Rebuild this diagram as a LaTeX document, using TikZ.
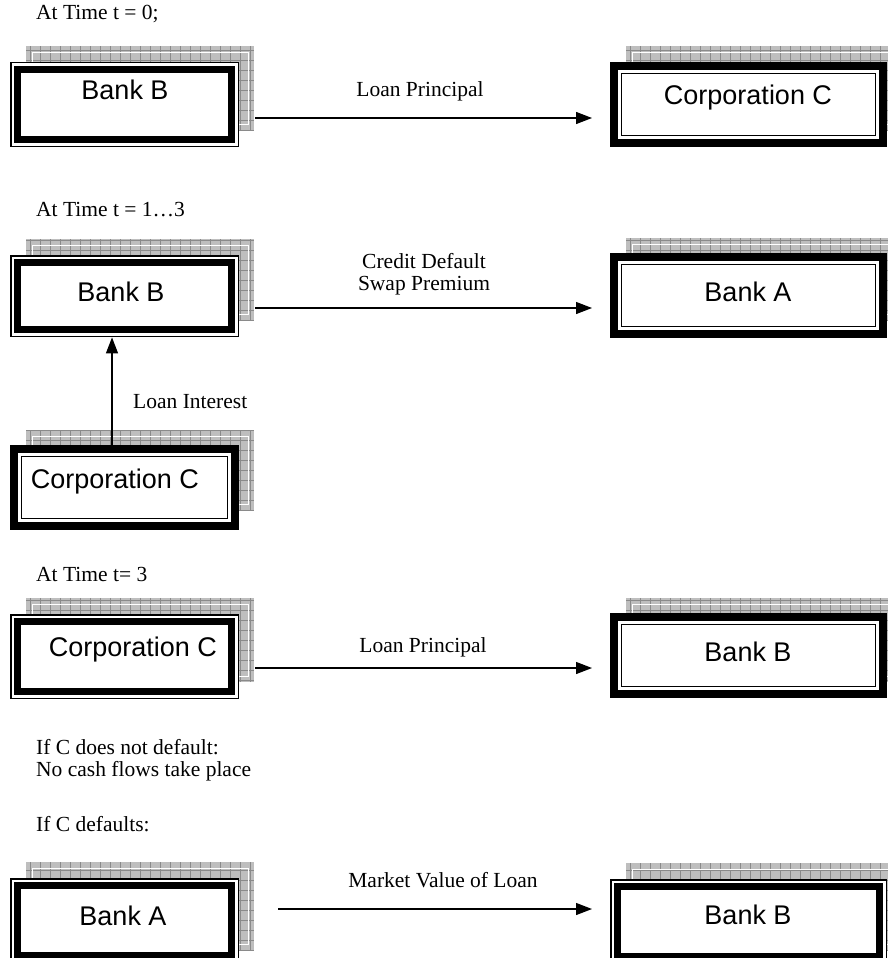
\documentclass[tikz,border=0pt]{standalone}
\usepackage{fontspec}
\setmainfont{Liberation Serif}
\newfontfamily\arialf{Liberation Sans}
\usetikzlibrary{calc,arrows.meta}
\definecolor{shfill}{HTML}{BEBEBE}
\definecolor{shgrid}{HTML}{8A8A8A}
\newcommand{\mkshadow}[4]{%
  \fill[shfill] (#1,#2) rectangle (#3,#4);
  \begin{scope}
    \clip (#1,#2) rectangle (#3,#4);
    \draw[shgrid, line width=0.6pt, xstep=10pt, ystep=10pt] (#1,#2) grid (#3,#4);
  \end{scope}
  \draw[white, line width=0.9pt] (#1+6,#2+6) rectangle (#3-6,#4-6);
}
\tikzset{
  lbl/.style={font=\fontsize{21.5}{25}\selectfont, inner sep=0pt},
  btxt/.style={font=\arialf\fontsize{27}{30}\selectfont, inner sep=0pt},
  bxbase/.style={rectangle, fill=white, draw=none, inner sep=0pt, anchor=north west,
    minimum width=229pt, minimum height=85pt},
  boxA/.style={bxbase, path picture={
    \draw[line width=1.3pt] ([shift={(0.65pt,-0.65pt)}]path picture bounding box.north west)
       rectangle ([shift={(-0.65pt,0.65pt)}]path picture bounding box.south east);
    \draw[line width=7pt] ([shift={(7.5pt,-7.5pt)}]path picture bounding box.north west)
       rectangle ([shift={(-7.5pt,7.5pt)}]path picture bounding box.south east);
  }},
  boxB/.style={bxbase, path picture={
    \draw[line width=8pt] ([shift={(4pt,-4pt)}]path picture bounding box.north west)
       rectangle ([shift={(-4pt,4pt)}]path picture bounding box.south east);
    \draw[line width=1.3pt] ([shift={(11.5pt,-11.5pt)}]path picture bounding box.north west)
       rectangle ([shift={(-11.5pt,11.5pt)}]path picture bounding box.south east);
  }},
  arr/.style={line width=1.3pt, -{Triangle[length=16pt,width=12pt]}},
}
\begin{document}
\begin{tikzpicture}[x=1pt,y=-1pt]
\useasboundingbox (0,0) rectangle (888,958);
\fill[white] (0,0) rectangle (888,958);

% ---------- Row 1 ----------
\node[lbl, anchor=west] (h1) at (36,14) {At Time t = 0;};
\mkshadow{26}{46}{254}{130}
\node[boxA] (b1) at (10,62) {};
\node[btxt] (b1t) at (125,90) {Bank B};
\mkshadow{626}{46}{902}{130}
\node[boxB, minimum width=277pt] (c1) at (610,62) {};
\node[btxt] (c1t) at (748,98) {Corporation C};
\draw[arr] ($(b1.north east)+(16pt,-56pt)$) -- ($(c1.north west)+(-18pt,-56pt)$);
\node[lbl] (l1) at (420,91) {Loan Principal};

% ---------- Row 2 ----------
\node[lbl, anchor=west] (h2) at (36,210) {At Time t = 1\ldots3};
\mkshadow{26}{239}{254}{320}
\node[boxA, minimum height=82pt] (b2) at (10,255) {};
\node[btxt] (b2t) at (121,292) {Bank B};
\mkshadow{626}{238}{902}{320}
\node[boxB, minimum width=277pt] (a2) at (610,253) {};
\node[btxt] (a2t) at (748,292) {Bank A};
\draw[arr] ($(b2.north east)+(16pt,-53pt)$) -- ($(a2.north west)+(-18pt,-55pt)$);
\node[lbl] (l2a) at (424,261) {Credit Default};
\node[lbl] (l2b) at (424,286) {Swap Premium};

\mkshadow{26}{430}{254}{510}
\node[boxB] (c2) at (10,445) {};
\node[btxt] (c2t) at (115,482) {Corporation C};
\draw[arr] ($(c2.north west)+(102pt,0pt)$) -- ($(b2.south west)+(102pt,0pt)$);
\node[lbl, anchor=west] (l2c) at (133,402) {Loan Interest};

% ---------- Row 3 ----------
\node[lbl, anchor=west] (h3) at (36,574) {At Time t= 3};
\mkshadow{26}{598}{254}{682}
\node[boxA] (c3) at (10,614) {};
\node[btxt] (c3t) at (133,650) {Corporation C};
\mkshadow{626}{598}{902}{682}
\node[boxB, minimum width=277pt] (b3) at (610,613) {};
\node[btxt] (b3t) at (748,652) {Bank B};
\draw[arr] ($(c3.north east)+(16pt,-54pt)$) -- ($(b3.north west)+(-18pt,-55pt)$);
\node[lbl] (l3) at (423,647) {Loan Principal};

\node[lbl, anchor=west] (n1) at (36,747) {If C does not default:};
\node[lbl, anchor=west] (n2) at (36,771) {No cash flows take place};
\node[lbl, anchor=west] (n3) at (36,824) {If C defaults:};

% ---------- Row 4 ----------
\mkshadow{26}{862}{254}{950}
\node[boxA] (a4) at (10,878) {};
\node[btxt] (a4t) at (123,916) {Bank A};
\mkshadow{626}{863}{902}{950}
\node[boxA, minimum width=277pt] (b4) at (610,879) {};
\node[btxt] (b4t) at (748,915) {Bank B};
\draw[arr] ($(a4.north east)+(39pt,-31pt)$) -- ($(b4.north west)+(-18pt,-30pt)$);
\node[lbl] (l4) at (443,880) {Market Value of Loan};
\end{tikzpicture}
\end{document}
